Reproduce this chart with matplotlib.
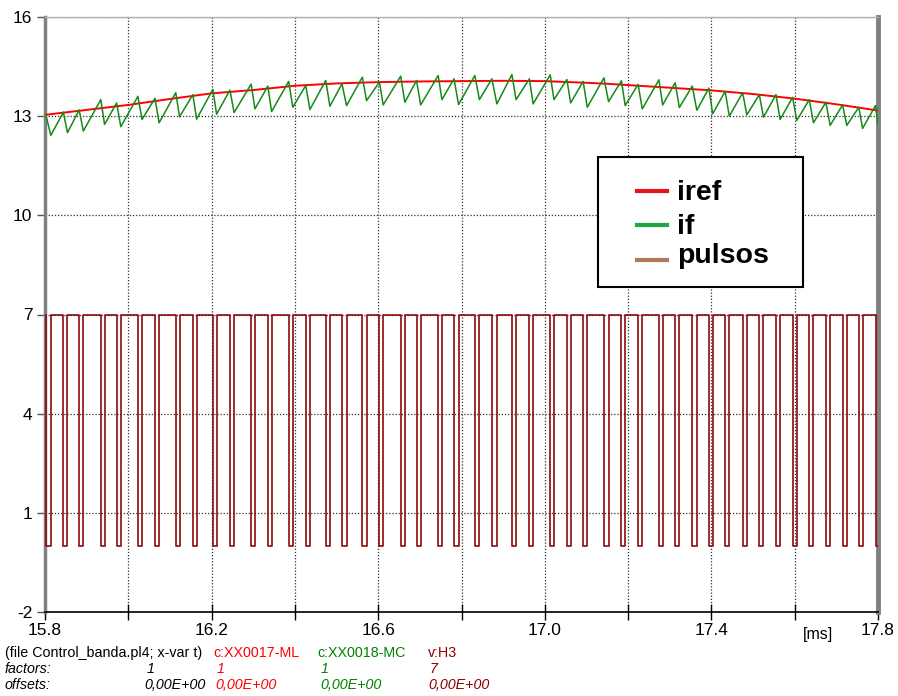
import matplotlib.pyplot as plt
from matplotlib.lines import Line2D
from matplotlib.patches import Rectangle
import numpy as np

plt.rcParams['font.family'] = ['Liberation Sans', 'DejaVu Sans']
plt.rcParams['axes.unicode_minus'] = False

# reference current iref (ms, A)
iref_t = [15.80, 16.00, 16.10, 16.20, 16.30, 16.40, 16.50, 16.60, 16.70, 16.80,
          16.90, 17.00, 17.10, 17.15, 17.20, 17.30, 17.40, 17.50, 17.60, 17.70, 17.80]
iref_a = [13.04, 13.34, 13.52, 13.69, 13.79, 13.92, 13.99, 14.03, 14.05, 14.06,
          14.07, 14.06, 14.01, 13.98, 13.94, 13.86, 13.78, 13.67, 13.53, 13.36, 13.17]

# switching instants of the band controller (ms)
t_off = [15.802, 15.844, 15.882, 15.934, 15.972, 16.023, 16.064, 16.114, 16.155, 16.203,
         16.244, 16.295, 16.335, 16.385, 16.426, 16.474, 16.513, 16.562, 16.603, 16.654,
         16.692, 16.744, 16.782, 16.832, 16.873, 16.921, 16.963, 17.013, 17.053, 17.092,
         17.142, 17.184, 17.224, 17.274, 17.313, 17.354, 17.394, 17.433, 17.475, 17.515,
         17.555, 17.595, 17.635, 17.675, 17.715, 17.754, 17.794]
t_on = [15.814, 15.854, 15.892, 15.943, 15.982, 16.033, 16.074, 16.123, 16.164, 16.212,
        16.254, 16.304, 16.344, 16.395, 16.436, 16.484, 16.524, 16.572, 16.612, 16.664,
        16.702, 16.753, 16.793, 16.843, 16.885, 16.931, 16.972, 17.022, 17.062, 17.102,
        17.153, 17.193, 17.234, 17.283, 17.323, 17.365, 17.403, 17.443, 17.485, 17.525,
        17.565, 17.605, 17.645, 17.685, 17.725, 17.763, 17.800]

# if at the top and bottom of each ramp (A)
if_peak = [13.04, 13.12, 13.19, 13.50, 13.40, 13.60, 13.54, 13.71, 13.65, 13.81,
           13.79, 13.97, 13.91, 14.05, 13.93, 14.08, 13.98, 14.18, 14.03, 14.21,
           14.08, 14.23, 14.13, 14.23, 14.13, 14.26, 14.13, 14.25, 14.11, 14.05,
           14.16, 14.07, 13.96, 14.10, 14.01, 13.91, 13.85, 13.75, 13.71, 13.65,
           13.65, 13.57, 13.50, 13.42, 13.34, 13.27, 13.32]
if_valley = [12.42, 12.50, 12.55, 12.75, 12.68, 12.90, 12.80, 12.98, 12.91, 13.06,
             13.11, 13.22, 13.14, 13.27, 13.20, 13.30, 13.32, 13.47, 13.34, 13.42,
             13.34, 13.50, 13.35, 13.50, 13.37, 13.50, 13.37, 13.50, 13.40, 13.27,
             13.44, 13.32, 13.22, 13.34, 13.26, 13.18, 13.07, 13.00, 13.04, 12.97,
             12.90, 12.87, 12.80, 12.72, 12.72, 12.63, 12.75]

pulse_high = 7   # v:H3 x factor 7
pulse_low = 0

# build the traces
if_t = np.ravel(np.column_stack([t_off, t_on]))
if_a = np.ravel(np.column_stack([if_peak, if_valley]))

n = len(t_off)
p_t = np.concatenate([[15.8], np.ravel(np.column_stack([t_off, t_off, t_on, t_on]))])
p_v = np.concatenate([[pulse_high],
                      np.tile([pulse_high, pulse_low, pulse_low, pulse_high], n)])
p_t, p_v = p_t[:-1], p_v[:-1]

W, H = 898, 696
fig = plt.figure(figsize=(W / 100, H / 100), dpi=100)
ax = fig.add_axes([45 / W, 1 - 612 / H, 833 / W, 595 / H])

ax.plot(p_t, p_v, color='#8b0a0a', lw=1.2, zorder=3)
ax.plot(iref_t, iref_a, color='#ff0000', lw=1.4, zorder=4)
ax.plot(if_t, if_a, color='#158a15', lw=1.1, zorder=5)

ax.set_xlim(15.8, 17.8)
ax.set_ylim(-2, 16)
xt = np.round(np.arange(15.8, 17.81, 0.2), 1)
ax.set_xticks(xt)
ax.set_xticklabels([f'{v:.1f}' if i % 2 == 0 else '' for i, v in enumerate(xt)])
ax.set_yticks([-2, 1, 4, 7, 10, 13, 16])
ax.tick_params(axis='x', direction='inout', length=12, width=1, labelsize=12.5, pad=2)
ax.tick_params(axis='y', direction='out', length=6, width=1, labelsize=12.5, pad=3,
               color='#555555')
ax.grid(True, ls=(0, (1, 1.5)), color='#303030', lw=0.9)

for side in ['left', 'right']:
    ax.spines[side].set_color('#808080')
    ax.spines[side].set_linewidth(2.5)
ax.spines['right'].set_linewidth(3.5)
ax.spines['top'].set_color('#b0b0b0')
ax.spines['top'].set_linewidth(1)
ax.spines['bottom'].set_color('black')
ax.spines['bottom'].set_linewidth(1.2)

fig.text(803 / W, 1 - 634 / H, '[ms]', fontsize=11.5, va='center')


def ftext(x, y, s, color='black', italic=False):
    fig.text(x / W, 1 - y / H, s, fontsize=10.3, color=color, va='center',
             style='italic' if italic else 'normal')


ftext(5, 653, '(file Control_banda.pl4; x-var t)')
ftext(213, 653, 'c:XX0017-ML', '#ff0000')
ftext(317, 653, 'c:XX0018-MC', '#008000')
ftext(428, 653, 'v:H3', '#8b0000')
ftext(5, 669, 'factors:', italic=True)
ftext(147, 669, '1', italic=True)
ftext(217, 669, '1', '#ff0000', True)
ftext(321, 669, '1', '#008000', True)
ftext(430, 669, '7', '#8b0000', True)
ftext(5, 685, 'offsets:', italic=True)
ftext(144, 685, '0,00E+00', italic=True)
ftext(215, 685, '0,00E+00', '#ff0000', True)
ftext(320, 685, '0,00E+00', '#008000', True)
ftext(428, 685, '0,00E+00', '#8b0000', True)

# legend box
fig.add_artist(Rectangle((598 / W, 1 - 287 / H), 205 / W, 130 / H,
                         transform=fig.transFigure, facecolor='white',
                         edgecolor='black', lw=1.5, zorder=10))
entries = [('iref', '#e8121b', 191, 200), ('if', '#1aa845', 225, 234),
           ('pulsos', '#b07a5a', 260, 263)]
for label, col, ly, ty in entries:
    fig.add_artist(Line2D([637 / W, 667 / W], [1 - ly / H] * 2, color=col, lw=3,
                          transform=fig.transFigure, zorder=11))
    fig.text(677 / W, 1 - ty / H, label, fontsize=20.5, fontweight='bold',
             va='baseline', zorder=11)

fig.savefig('out.png', dpi=100)
